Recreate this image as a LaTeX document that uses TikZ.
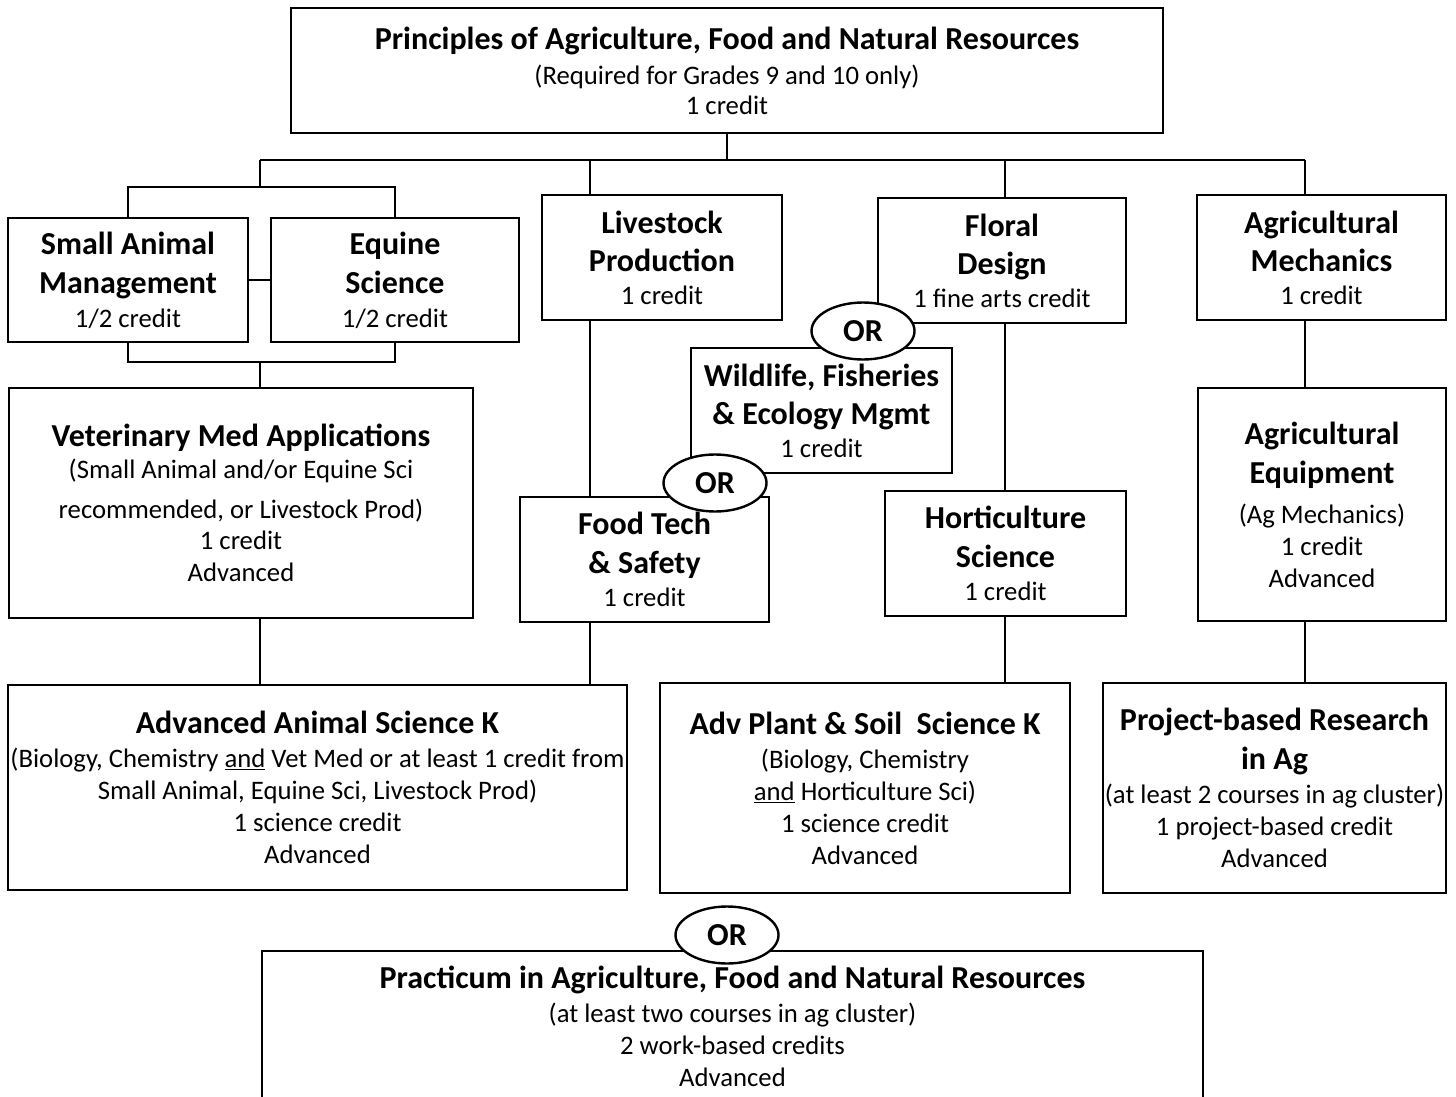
\documentclass[tikz,border=0pt]{standalone}
\usepackage{fontspec}
\setmainfont{Carlito}
\usepackage{tikz}
\usetikzlibrary{positioning,calc,shapes.geometric}

\newcommand{\ttl}[1]{{\bfseries\fontsize{32}{32}\selectfont #1}}

\begin{document}
\begin{tikzpicture}[x=1pt,y=-1pt,
	box/.style={draw, line width=2.6pt, align=center, inner sep=0pt, font=\fontsize{26.7}{32}\selectfont},
	orsign/.style={draw, ellipse, fill=white, line width=2.4pt, minimum width=103pt, minimum height=57pt, inner sep=0pt, font=\bfseries\fontsize{32}{32}\selectfont},
	link/.style={line width=2.3pt}]
		
		\useasboundingbox (0,0) rectangle (1456,1097);
		\clip (0,0) rectangle (1456,1097);
		
		\node[box, minimum width=872pt, minimum height=125pt] (principles) at (727,70.5) {\ttl{Principles of Agriculture, Food and Natural Resources}\\[3pt](Required for Grades 9 and 10 only)\\[-2pt]1 credit};
		
		\node[box, minimum width=240pt, minimum height=124pt] (smallanimal) at (128,280) {\ttl{Small Animal}\\[7pt]\ttl{Management}\\[2pt]1/2 credit};
		\node[box, minimum width=248pt, minimum height=124pt] (equine) at (395,280) {\ttl{Equine}\\[7pt]\ttl{Science}\\[2pt]1/2 credit};
		\node[box, minimum width=240pt, minimum height=125pt] (livestock) at (662,257.5) {\ttl{Livestock}\\[6pt]\ttl{Production}\\[1pt]1 credit};
		\node[box, minimum width=248pt, minimum height=125pt] (floral) at (1002,260.5) {\ttl{Floral}\\[6pt]\ttl{Design}\\[1pt]1 fine arts credit};
		\node[box, minimum width=249pt, minimum height=125pt] (agmech) at (1321.5,257.5) {\ttl{Agricultural}\\[6pt]\ttl{Mechanics}\\[1pt]1 credit};
		
		\node[box, minimum width=464pt, minimum height=230pt] (vetmed) at (241,503) {\ttl{Veterinary Med Applications}\\(Small Animal and/or Equine Sci\\[8pt]recommended, or Livestock Prod)\\[-1pt]1 credit\\Advanced};
		\node[box, minimum width=261pt, minimum height=125pt] (wildlife) at (821.5,410.5) {\ttl{Wildlife, Fisheries}\\[6pt]\ttl{\& Ecology Mgmt}\\[1pt]1 credit};
		\node[box, minimum width=249pt, minimum height=125pt] (foodtech) at (644.5,559.5) {\ttl{Food Tech}\\[7pt]\ttl{\& Safety}\\[1pt]1 credit};
		\node[box, minimum width=241pt, minimum height=125pt] (horti) at (1005.5,553.5) {\ttl{Horticulture}\\[7pt]\ttl{Science}\\[1pt]1 credit};
		\node[box, minimum width=248pt, minimum height=233pt] (agequip) at (1322,504.5) {\ttl{Agricultural}\\[7pt]\ttl{Equipment}\\[8pt](Ag Mechanics)\\1 credit\\Advanced};
		
		\node[box, minimum width=619pt, minimum height=205pt] (advanimal) at (317.5,787.5) {\ttl{Advanced Animal Science K}\\[2pt](Biology, Chemistry \underline{and} Vet Med or at least 1 credit from\\Small Animal, Equine Sci, Livestock Prod)\\1 science credit\\Advanced};
		\node[box, minimum width=410pt, minimum height=210pt] (advplant) at (865,788) {\ttl{Adv Plant \& Soil\ \ Science K}\\[2pt](Biology, Chemistry\\\underline{and} Horticulture Sci)\\1 science credit\\Advanced};
		\node[box, minimum width=343pt, minimum height=210pt] (project) at (1274.5,788) {\ttl{Project-based Research}\\[7pt]\ttl{in Ag}\\[2pt](at least 2 courses in ag cluster)\\1 project-based credit\\Advanced};
		
		\node[box, minimum width=941pt, minimum height=150pt] (practicum) at (732.5,1026) {\ttl{Practicum in Agriculture, Food and Natural Resources}\\[2pt](at least two courses in ag cluster)\\2 work-based credits\\Advanced};
		
		\coordinate (c1) at (260,160);
		\coordinate (c2) at (590,160);
		\coordinate (c3) at (1005,160);
		\coordinate (c4) at (1305,160);
		\coordinate (brtop) at (260,187);
		\coordinate (brbot) at (260,362);
		
		\draw[link] (principles.south) -- (principles.south |- c1);
		\draw[link] (c1) -- (c4);
		\draw[link] (c1) -- (brtop);
		\draw[link] (smallanimal.north) |- (brtop) -| (equine.north);
		\draw[link] (smallanimal.east) -- (equine.west);
		\draw[link] (smallanimal.south) |- (brbot) -| (equine.south);
		\draw[link] (brbot) -- (brbot |- vetmed.north);
		
		\draw[link] (c2) -- (c2 |- livestock.north);
		\draw[link] (c3) -- (c3 |- floral.north);
		\draw[link] (c4) -- (c4 |- agmech.north);
		
		\draw[link] (c2 |- livestock.south) -- (c2 |- foodtech.north);
		\draw[link] (c3 |- floral.south) -- (c3 |- horti.north);
		\draw[link] (c4 |- agmech.south) -- (c4 |- agequip.north);
		
		\draw[link] (brbot |- vetmed.south) -- (brbot |- advanimal.north);
		\draw[link] (c2 |- foodtech.south) -- (c2 |- advanimal.north);
		\draw[link] (c3 |- horti.south) -- (c3 |- advplant.north);
		\draw[link] (c4 |- agequip.south) -- (c4 |- project.north);
		
		\node[orsign] (or1) at (863,331) {OR};
		\node[orsign] (or2) at (715,483) {OR};
		\node[orsign] (or3) at (727,935) {OR};
	\end{tikzpicture}
\end{document}
